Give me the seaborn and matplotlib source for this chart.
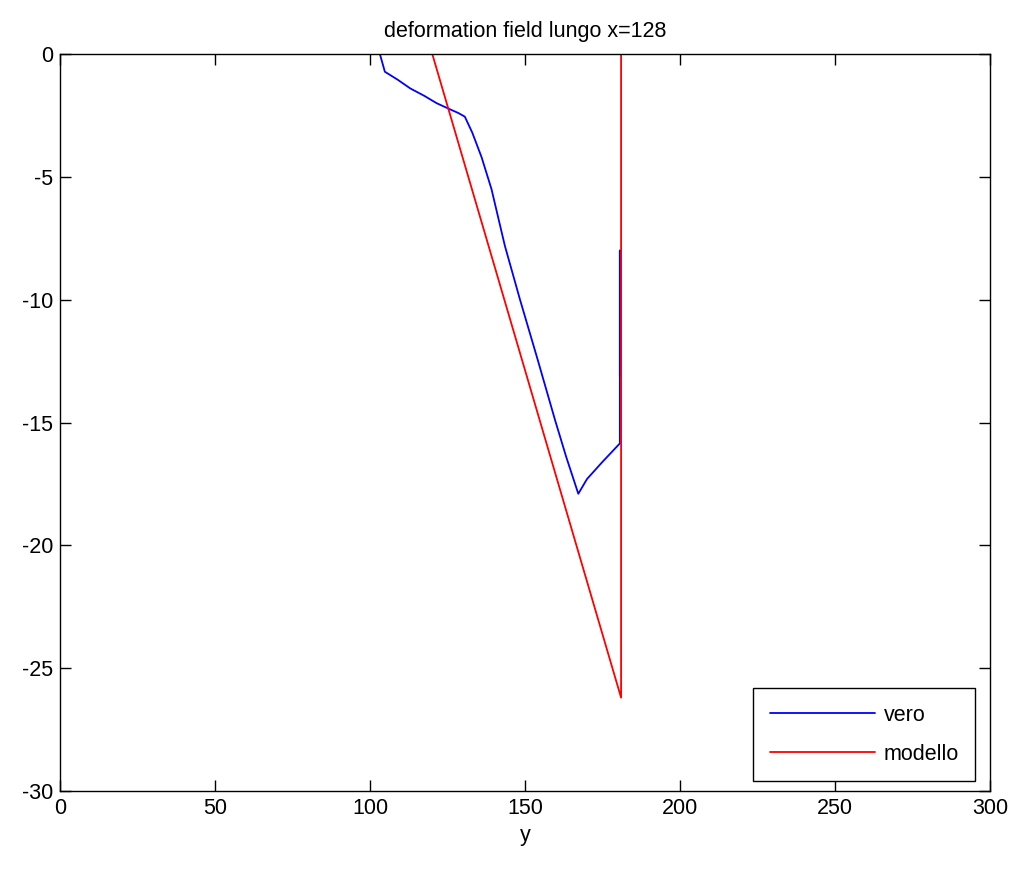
import numpy as np
import pandas as pd
import seaborn as sns
import matplotlib
matplotlib.use('Agg')
import matplotlib.pyplot as plt

# data
vero_y = [103.2, 104.8, 109.0, 113.0, 117.5, 121.5, 125.8, 128.5, 130.6, 133.0, 136.0, 139.2,
          143.5, 148.4, 154.0, 159.7, 163.3, 167.2, 170.0, 175.0, 180.6, 180.6, 180.6]
vero_v = [0.0, -0.72, -1.05, -1.4, -1.7, -2.0, -2.25, -2.4, -2.55, -3.2, -4.2, -5.5,
          -7.8, -10.0, -12.4, -14.9, -16.4, -17.9, -17.3, -16.6, -15.85, -8.0, -13.1]
modello_y = [120.1, 181.0, 181.0]
modello_v = [0.0, -26.2, 0.0]

df_vero = pd.DataFrame({'y': vero_y, 'v': vero_v})
df_mod = pd.DataFrame({'y': modello_y, 'v': modello_v})

sns.set_style('white')
plt.rcParams['font.family'] = ['Liberation Sans', 'DejaVu Sans']
plt.rcParams['axes.unicode_minus'] = False
plt.rcParams['text.color'] = 'black'
plt.rcParams['axes.labelcolor'] = 'black'
plt.rcParams['xtick.color'] = 'black'
plt.rcParams['ytick.color'] = 'black'

fig = plt.figure(figsize=(10.18, 8.73), dpi=100)
ax = fig.add_axes([0.0589, 0.0939, 0.9136, 0.8442])

sns.lineplot(data=df_vero, x='y', y='v', sort=False, estimator=None, color='#0000ff',
             linewidth=1.3, ax=ax, label='vero')
sns.lineplot(data=df_mod, x='y', y='v', sort=False, estimator=None, color='#ff0000',
             linewidth=1.3, ax=ax, label='modello')

ax.set_xlim(0, 300)
ax.set_ylim(-30, 0)
ax.set_xticks(np.arange(0, 301, 50))
ax.set_yticks(np.arange(-30, 1, 5))
ax.tick_params(direction='in', length=8, width=1, bottom=True, left=True, top=True, right=True,
               labelsize=15.5, color='black', labelcolor='black', pad=5)
for s in ax.spines.values():
    s.set_color('black')
    s.set_linewidth(1)
ax.set_xlabel('y', fontsize=15.5, labelpad=4, color='black')
ax.set_ylabel('')
ax.set_title('deformation field lungo x=128', fontsize=15.5, pad=12, color='black')

leg = ax.legend(loc='lower right', fontsize=15.5, fancybox=False, framealpha=1,
                edgecolor='black', handlelength=4.9, borderpad=0.75, labelspacing=0.85,
                handletextpad=0.4, borderaxespad=0, bbox_to_anchor=(0.984, 0.0136))
leg.get_frame().set_linewidth(1)
for t in leg.get_texts():
    t.set_color('black')

fig.savefig('out.png', dpi=100, facecolor='white')
